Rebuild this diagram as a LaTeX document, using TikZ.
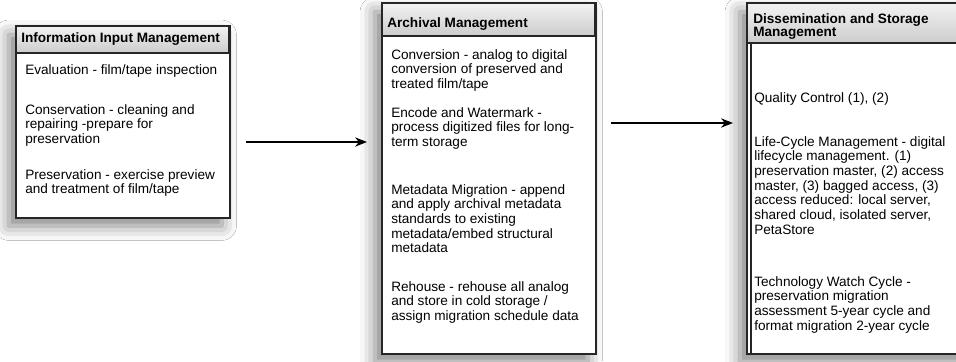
\documentclass[tikz,border=0pt]{standalone}
\usepackage{fontspec}
\setmainfont{Liberation Sans}
\usetikzlibrary{shadows.blur,arrows.meta}
\begin{document}
\begin{tikzpicture}[x=0.75pt,y=-0.75pt,
  txt/.style={anchor=north west, inner sep=0pt, align=left, font=\fontsize{10.2}{11}\selectfont},
  hdr/.style={anchor=north west, inner sep=0pt, align=left, font=\fontsize{10.2}{10}\selectfont\bfseries},
  frame/.style={draw=black!85, line width=1.1pt, fill=white, anchor=north west, inner sep=0pt,
    blur shadow={shadow xshift=-6pt, shadow yshift=-6pt, shadow blur radius=11pt, shadow opacity=50}},
  head/.style={draw=black!85, line width=0.9pt, top color=gray!10, bottom color=gray!40},
  flow/.style={-{Stealth[length=9pt,width=7pt]}, line width=0.9pt}]
\useasboundingbox (0,0) rectangle (956,361);
\fill[white] (0,0) rectangle (956,361);
% boxes
\node[frame, minimum width=213*0.75pt, minimum height=191*0.75pt] (b1) at (16,26) {};
\node[frame, minimum width=213*0.75pt, minimum height=350*0.75pt] (b2) at (382,3) {};
\node[frame, minimum width=220*0.75pt, minimum height=350*0.75pt] (b3) at (747,3) {};
% headers
\path[head] (16,26) rectangle (229,53);
\path[head] (382,3) rectangle (595,36);
\path[head] (747,3) rectangle (967,43);
\draw[line width=1.1pt, draw=black!85] (b1.north west) rectangle (b1.south east);
\draw[line width=1.1pt, draw=black!85] (b2.north west) rectangle (b2.south east);
\draw[line width=1.1pt, draw=black!85] (b3.north west) rectangle (b3.south east);
\draw[line width=0.8pt, draw=black!85] (751,43) -- (751,353);
% box 1 text
\node[hdr] (h1) at (21,32) {Information Input Management};
\node[txt] (t11) at (25,64) {Evaluation - film/tape inspection};
\node[txt] (t12) at (25,104) {Conservation - cleaning and\\repairing -prepare for\\preservation};
\node[txt] (t13) at (25,169) {Preservation - exercise preview\\and treatment of film/tape};
% box 2 text
\node[hdr] (h2) at (387,17) {Archival Management};
\node[txt] (t21) at (391,49) {Conversion - analog to digital\\conversion of preserved and\\treated film/tape};
\node[txt] (t22) at (391,107) {Encode and Watermark -\\process digitized files for long-\\term storage};
\node[txt] (t23) at (391,184) {Metadata Migration - append\\and apply archival metadata\\standards to existing\\metadata/embed structural\\metadata};
\node[txt] (t24) at (391,281) {Rehouse - rehouse all analog\\and store in cold storage /\\assign migration schedule data};
% box 3 text
\node[hdr] (h3) at (753,13) {Dissemination and Storage\\Management};
\node[txt] (t31) at (754,92) {Quality Control (1), (2)};
\node[txt] (t32) at (754,136) {Life-Cycle Management - digital\\lifecycle management. (1)\\preservation master, (2) access\\master, (3) bagged access, (3)\\access reduced: local server,\\shared cloud, isolated server,\\PetaStore};
\node[txt] (t33) at (754,276) {Technology Watch Cycle -\\preservation migration\\assessment 5-year cycle and\\format migration 2-year cycle};
% arrows
\coordinate (a1s) at ([shift={(16,116)}]b1.north east);
\coordinate (a1e) at ([shift={(-15,139)}]b2.north west);
\coordinate (a2s) at ([shift={(15,120)}]b2.north east);
\coordinate (a2e) at ([shift={(-14,120)}]b3.north west);
\draw[flow] (a1s) -- (a1e);
\draw[flow] (a2s) -- (a2e);
\end{tikzpicture}
\end{document}
